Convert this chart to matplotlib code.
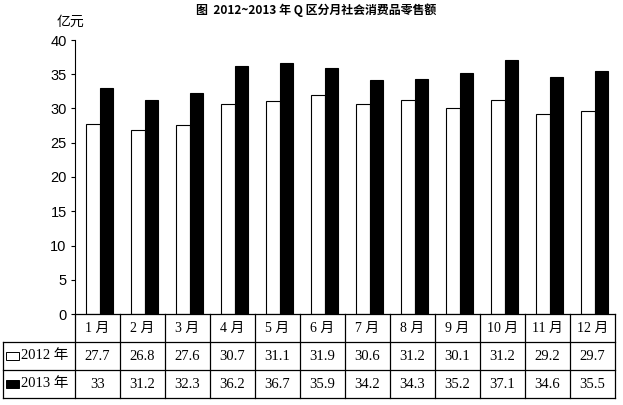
import matplotlib
matplotlib.use("Agg")
import matplotlib.pyplot as plt
from matplotlib.patches import Rectangle

months = ["1 月", "2 月", "3 月", "4 月", "5 月", "6 月",
          "7 月", "8 月", "9 月", "10 月", "11 月", "12 月"]
sales_2012 = [27.7, 26.8, 27.6, 30.7, 31.1, 31.9, 30.6, 31.2, 30.1, 31.2, 29.2, 29.7]
sales_2013 = [33, 31.2, 32.3, 36.2, 36.7, 35.9, 34.2, 34.3, 35.2, 37.1, 34.6, 35.5]
series_labels = ["2012 年", "2013 年"]
yticks = [0, 5, 10, 15, 20, 25, 30, 35, 40]

W, H = 623, 405
SANS = ["Liberation Sans", "Noto Sans CJK SC"]
SERIF = ["Liberation Serif", "Noto Sans CJK SC"]
CJK = ["Noto Sans CJK SC", "DejaVu Sans"]

fig = plt.figure(figsize=(W / 100, H / 100), dpi=100)


def px_axes(x0, y0, x1, y1):
    # axes from pixel box (top-left origin)
    return fig.add_axes([x0 / W, 1 - y1 / H, (x1 - x0) / W, (y1 - y0) / H])


# ---- bar chart ----
ax = px_axes(75, 40, 615, 314)
x = list(range(len(months)))
bw = 0.29
ax.bar([i - 0.1 for i in x], sales_2012, width=bw, color="white",
       edgecolor="black", linewidth=0.8)
ax.bar([i + 0.19 for i in x], sales_2013, width=bw, color="black",
       edgecolor="black", linewidth=0.8)
ax.set_xlim(-0.5, len(months) - 0.5)
ax.set_ylim(0, 40)
ax.set_yticks(yticks)
ax.set_yticklabels([str(v) for v in yticks], family=SANS, fontsize=10.5)
ax.tick_params(axis="y", direction="out", length=3, width=0.8, pad=3)
ax.set_xticks([])
for s in ["top", "right", "bottom"]:
    ax.spines[s].set_visible(False)
ax.spines["left"].set_linewidth(0.8)

fig.text(70 / W, 1 - 22 / H, "亿元", family=CJK, fontsize=10,
         ha="center", va="center")
fig.text(316 / W, 1 - 10 / H, "图  2012~2013 年 Q 区分月社会消费品零售额",
         family=CJK, fontsize=8.6, fontweight="bold", ha="center", va="center")

# ---- data table below ----
tx = px_axes(3, 314, 615, 398)
n = len(months)
tx.set_xlim(-2.1, n - 0.5)
tx.set_ylim(3, 0)
tx.axis("off")
lw = 0.9
# horizontal lines
tx.plot([-0.5, n - 0.5], [0, 0], color="black", lw=lw)
for yy in (1, 2, 3):
    tx.plot([-2.1, n - 0.5], [yy, yy], color="black", lw=lw)
# vertical lines
tx.plot([-2.1, -2.1], [1, 3], color="black", lw=lw)
for i in range(n + 1):
    tx.plot([i - 0.5, i - 0.5], [0, 3], color="black", lw=lw)
for c in tx.lines:
    c.set_clip_on(False)

for i, m in enumerate(months):
    tx.text(i, 0.5, m, family=SERIF, fontsize=10, ha="center", va="center")
    tx.text(i, 1.5, f"{sales_2012[i]:g}", family=SERIF, fontsize=10.5,
            ha="center", va="center")
    tx.text(i, 2.5, f"{sales_2013[i]:g}", family=SERIF, fontsize=10.5,
            ha="center", va="center")

for r, (lab, fc) in enumerate(zip(series_labels, ["white", "black"])):
    tx.add_patch(Rectangle((-2.04, r + 1.37), 0.3, 0.27, facecolor=fc,
                           edgecolor="black", lw=0.7, clip_on=False))
    tx.text(-1.7, r + 1.5, lab, family=SERIF, fontsize=10.5,
            ha="left", va="center")

fig.savefig("out.png", dpi=100)
